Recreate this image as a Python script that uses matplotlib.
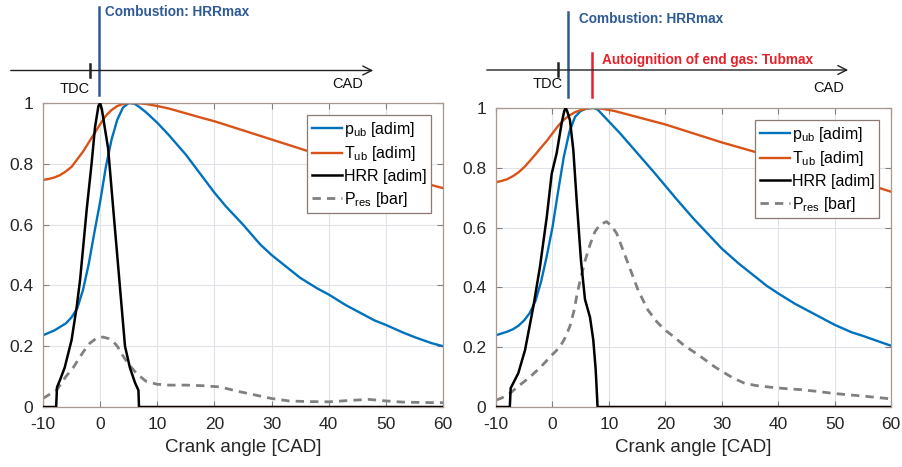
import matplotlib
matplotlib.use("Agg")
import matplotlib.pyplot as plt

plt.rcParams['font.family'] = ['Liberation Sans', 'DejaVu Sans']
plt.rcParams['mathtext.fontset'] = 'custom'
plt.rcParams['mathtext.rm'] = 'Liberation Sans'
plt.rcParams['mathtext.it'] = 'Liberation Sans:italic'
plt.rcParams['axes.unicode_minus'] = False

# ---- left case: only combustion ----
pub_l_x = [-10, -8, -6, -5, -4, -3, -2, -1, 0, 1, 2, 3, 4, 5, 6, 7, 8, 10, 12, 15, 18, 20, 22,
           25, 28, 30, 33, 35, 38, 40, 43, 45, 48, 50, 53, 55, 58, 60]
pub_l_y = [0.236, 0.252, 0.275, 0.295, 0.325, 0.385, 0.47, 0.575, 0.675, 0.79, 0.88, 0.945,
           0.985, 1.0, 0.998, 0.985, 0.97, 0.935, 0.895, 0.83, 0.755, 0.705, 0.66, 0.60, 0.535,
           0.50, 0.455, 0.425, 0.39, 0.37, 0.335, 0.315, 0.285, 0.27, 0.245, 0.23, 0.21, 0.20]

tub_l_x = [-10, -9, -8, -7, -6, -5, -4, -3, -2, -1, 0, 1, 2, 3, 4, 5, 6, 8, 10, 12, 15, 18, 20,
           25, 30, 35, 40, 45, 50, 55, 60]
tub_l_y = [0.747, 0.75, 0.755, 0.763, 0.775, 0.79, 0.815, 0.84, 0.87, 0.90, 0.93, 0.958, 0.977,
           0.99, 0.997, 1.0, 1.0, 0.997, 0.99, 0.982, 0.966, 0.95, 0.94, 0.91, 0.88, 0.85, 0.82,
           0.795, 0.77, 0.745, 0.72]

hrr_l_x = [-10, -7.7, -7.55, -7, -6.2, -5, -4.1, -3.5, -2.35, -1.5, -0.9, -0.3, 0, 0.3, 0.8,
           1.4, 2.3, 3.35, 4.35, 5.2, 6.1, 6.7, 6.8, 60]
hrr_l_y = [0, 0, 0.065, 0.09, 0.13, 0.22, 0.33, 0.42, 0.65, 0.80, 0.92, 0.99, 1.0, 0.98, 0.92,
           0.85, 0.65, 0.42, 0.2, 0.13, 0.08, 0.055, 0, 0]

pres_l_x = [-10, -9, -7.6, -6, -4.7, -3, -1.8, -0.5, 0.5, 1.5, 2.3, 3, 4, 5, 6.4, 8, 9.9, 12,
            15, 18, 21, 24, 26, 28, 30, 33, 36, 40, 44, 47, 50, 53, 56, 60]
pres_l_y = [0.028, 0.04, 0.056, 0.10, 0.13, 0.18, 0.21, 0.228, 0.23, 0.225, 0.215, 0.20, 0.168,
            0.14, 0.11, 0.085, 0.075, 0.072, 0.072, 0.07, 0.066, 0.052, 0.044, 0.036, 0.028,
            0.02, 0.018, 0.017, 0.022, 0.025, 0.02, 0.016, 0.015, 0.014]

# ---- right case: combustion + autoignition ----
pub_r_x = [-10, -8, -7, -6, -5, -4, -3, -2, -1, 0, 1, 2, 3, 4, 5, 6, 7, 7.3, 8, 9, 10, 12, 15,
           18, 20, 22, 25, 28, 30, 33, 35, 38, 40, 43, 45, 48, 50, 53, 55, 58, 60]
pub_r_y = [0.24, 0.252, 0.26, 0.272, 0.29, 0.315, 0.355, 0.42, 0.505, 0.6, 0.72, 0.835,
           0.92, 0.97, 0.99, 0.998, 1.0, 1.0, 0.995, 0.975, 0.955, 0.915, 0.85, 0.785, 0.74,
           0.695, 0.63, 0.57, 0.53, 0.48, 0.45, 0.405, 0.38, 0.345, 0.325, 0.295, 0.275, 0.25,
           0.238, 0.218, 0.205]

tub_r_x = [-10, -9, -8, -7, -6, -5, -4, -3, -2, -1, 0, 1, 2, 3, 4, 5, 6, 7, 7.5, 9, 11, 13, 15,
           18, 20, 25, 30, 35, 40, 45, 50, 55, 60]
tub_r_y = [0.752, 0.756, 0.762, 0.772, 0.785, 0.802, 0.823, 0.845, 0.868, 0.89, 0.915, 0.94,
           0.96, 0.975, 0.986, 0.993, 0.998, 1.0, 1.0, 0.997, 0.99, 0.98, 0.97, 0.955, 0.945,
           0.915, 0.885, 0.858, 0.83, 0.805, 0.78, 0.75, 0.72]

hrr_r_x = [-10, -7.55, -7.4, -6.05, -4.86, -3.39, -2.2, -1.0, -0.13, 0.76, 1.64, 2.1, 2.35,
           2.6, 3.1, 3.7, 4.3, 5.06, 5.77, 6.66, 7.24, 7.67, 8.0, 60]
hrr_r_y = [0, 0, 0.063, 0.113, 0.19, 0.335, 0.47, 0.636, 0.78, 0.85, 0.95, 0.99, 1.0, 0.99,
           0.96, 0.86, 0.69, 0.49, 0.36, 0.30, 0.224, 0.124, 0, 0]

pres_r_x = [-10, -9, -7.5, -6, -4, -2, -0.4, 1.3, 2.2, 3.1, 3.8, 4.4, 5.0, 5.8, 6.7, 7.5, 8.4,
            9.6, 10.5, 11.4, 12.3, 13.2, 14.2, 15.2, 16.9, 18.5, 19.8, 21.5, 23.4, 25, 26.9,
            28.7, 30.5, 32, 34, 36, 38.7, 41, 44, 47, 50, 53, 55.9, 58, 60]
pres_r_y = [0.023, 0.03, 0.046, 0.07, 0.10, 0.135, 0.168, 0.20, 0.23, 0.27, 0.32, 0.38, 0.43,
            0.49, 0.545, 0.585, 0.61, 0.62, 0.605, 0.58, 0.535, 0.49, 0.44, 0.39, 0.325, 0.285,
            0.26, 0.235, 0.205, 0.185, 0.16, 0.135, 0.114, 0.097, 0.08, 0.072, 0.066, 0.062,
            0.058, 0.052, 0.045, 0.04, 0.035, 0.031, 0.027]

legend_labels = [r'p$_{\mathrm{ub}}$ [adim]', r'T$_{\mathrm{ub}}$ [adim]', 'HRR [adim]',
                 r'P$_{\mathrm{res}}$ [bar]']
x_ticks = [-10, 0, 10, 20, 30, 40, 50, 60]
y_ticks = [0, 0.2, 0.4, 0.6, 0.8, 1]
y_ticklabels = ['0', '0.2', '0.4', '0.6', '0.8', '1']

W, H = 902, 467
fig = plt.figure(figsize=(W / 100, H / 100), dpi=100)

frame_col = '#a89890'


def panel(rect, curves, legend_pos):
    ax = fig.add_axes(rect)
    (px, py), (tx, ty), (hx, hy), (rx, ry) = curves
    ax.plot(px, py, color='#0072BD', lw=1.7, label=legend_labels[0])
    ax.plot(tx, ty, color='#D95319', lw=1.7, label=legend_labels[1])
    ax.plot(hx, hy, color='black', lw=1.8, label=legend_labels[2], zorder=4)
    ax.plot(rx, ry, color='#808080', lw=2.0, ls=(0, (3, 2.2)), label=legend_labels[3])
    ax.set_xlim(-10, 60)
    ax.set_ylim(0, 1)
    ax.set_xticks(x_ticks)
    ax.set_yticks(y_ticks)
    ax.set_yticklabels(y_ticklabels)
    ax.grid(True, color='#dfe3e8', lw=0.8)
    ax.set_axisbelow(True)
    ax.tick_params(direction='in', top=True, right=True, length=4, width=0.8,
                   color='#808080', labelsize=12.5, labelcolor='#262626', pad=7)
    for s in ax.spines.values():
        s.set_color(frame_col)
        s.set_linewidth(0.9)
    ax.set_xlabel('Crank angle [CAD]', fontsize=13.5, color='#262626', labelpad=5)
    leg = ax.legend(loc='upper right', bbox_to_anchor=legend_pos, borderaxespad=0,
                    fontsize=11.5, handlelength=1.9, handletextpad=0.1, labelspacing=0.35,
                    borderpad=0.3, fancybox=False, framealpha=1, edgecolor='#8a7a72')
    leg.get_frame().set_linewidth(0.9)
    return ax


panel([43 / W, 60 / H, 400 / W, 304 / H],
      [(pub_l_x, pub_l_y), (tub_l_x, tub_l_y), (hrr_l_x, hrr_l_y), (pres_l_x, pres_l_y)],
      (1 - 12 / 400, 1 - 12 / 304))
panel([496 / W, 60 / H, 395 / W, 299 / H],
      [(pub_r_x, pub_r_y), (tub_r_x, tub_r_y), (hrr_r_x, hrr_r_y), (pres_r_x, pres_r_y)],
      (1 - 12 / 395, 1 - 12 / 299))

# ---- timelines above the plots (pixel overlay) ----
ov = fig.add_axes([0, 0, 1, 1], zorder=-1)
ov.set_xlim(0, W)
ov.set_ylim(H, 0)
ov.axis('off')

blue = '#2E5A96'
red = '#E8202A'

# left timeline
ov.annotate('', xy=(376, 70.5), xytext=(8, 70.5),
            arrowprops=dict(arrowstyle='->', lw=1.0, color='#222222', mutation_scale=16))
ov.plot([90, 90], [64, 77], color='#222222', lw=1.8)
ov.plot([99, 99], [7, 95], color=blue, lw=1.8)
ov.text(105, 12, 'Combustion: HRRmax', color=blue, fontsize=9.8, fontweight='bold',
        va='center', ha='left')
ov.text(75, 89, 'TDC', fontsize=10.5, va='center', ha='center', color='#111111')
ov.text(348, 84, 'CAD', fontsize=10.5, va='center', ha='center', color='#111111')

# right timeline
ov.annotate('', xy=(851, 70), xytext=(484, 70),
            arrowprops=dict(arrowstyle='->', lw=1.0, color='#222222', mutation_scale=16))
ov.plot([558, 558], [63, 76], color='#222222', lw=1.8)
ov.plot([568, 568], [12, 97], color=blue, lw=1.8)
ov.plot([592, 592], [53, 97], color=red, lw=1.8)
ov.text(579, 19, 'Combustion: HRRmax', color=blue, fontsize=9.8, fontweight='bold',
        va='center', ha='left')
ov.text(602, 60, 'Autoignition of end gas: Tubmax', color=red, fontsize=9.8,
        fontweight='bold', va='center', ha='left')
ov.text(548, 84, 'TDC', fontsize=10.5, va='center', ha='center', color='#111111')
ov.text(829, 88, 'CAD', fontsize=10.5, va='center', ha='center', color='#111111')

fig.savefig('out.png', dpi=100)
